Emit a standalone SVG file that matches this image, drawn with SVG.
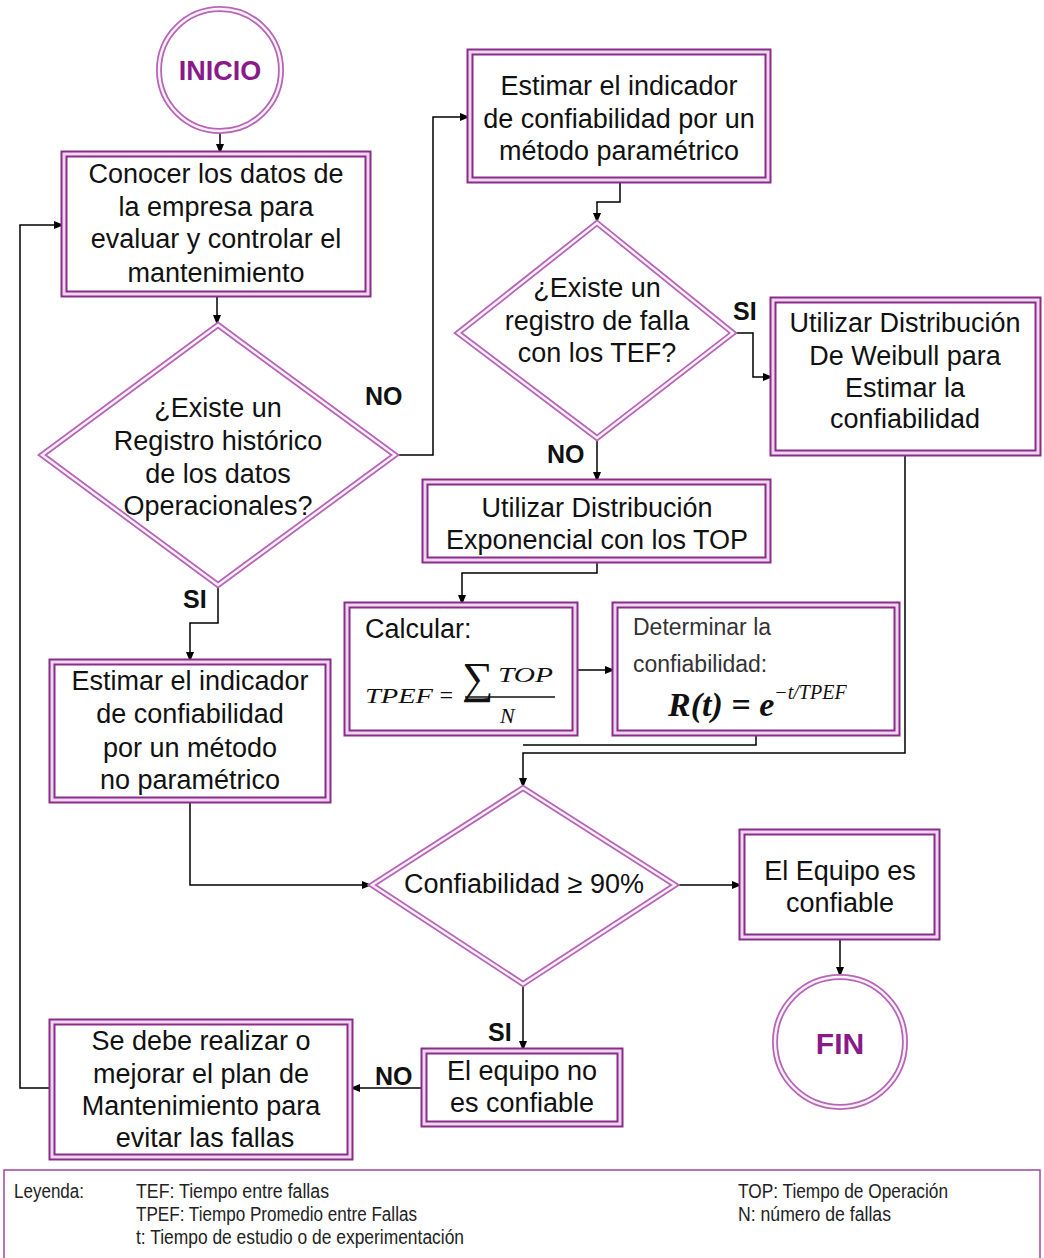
<svg xmlns="http://www.w3.org/2000/svg" width="1044" height="1258" viewBox="0 0 1044 1258">
<defs>
<marker id="ah" markerWidth="10" markerHeight="8" refX="9" refY="4" orient="auto" markerUnits="userSpaceOnUse"><path d="M0,0 L10,4 L0,8 z" fill="#000"/></marker>
</defs>
<style>
.bo{fill:#fff;stroke:#8a2c8a;stroke-width:7}
.bi{fill:none;stroke:#efd6ef;stroke-width:3}
.do{fill:#fff;stroke:#b766b7;stroke-width:6}
.di{fill:none;stroke:#fbf0fb;stroke-width:2.4}
.t{font-family:"Liberation Sans",Arial,sans-serif;font-size:27px;fill:#111;text-anchor:middle}
.tl{font-family:"Liberation Sans",Arial,sans-serif;font-size:27px;fill:#111;text-anchor:start}
.lb{font-family:"Liberation Sans",Arial,sans-serif;font-size:25px;font-weight:bold;fill:#111}
.c{fill:none;stroke:#000;stroke-width:1.5}
.ca{fill:none;stroke:#000;stroke-width:1.5;marker-end:url(#ah)}
.term{font-family:"Liberation Sans",Arial,sans-serif;font-weight:bold;fill:#8a1a8a;text-anchor:middle}
.lg{font-family:"Liberation Sans",Arial,sans-serif;font-size:20px;fill:#222}
.sm{font-family:"Liberation Sans",Arial,sans-serif;font-size:23px;fill:#333}
.m{font-family:"Liberation Serif","Times New Roman",serif;font-style:italic;fill:#111}
</style>
<rect width="1044" height="1258" fill="#fff"/>

<g id="connectors">
<path class="ca" d="M220,131 V153"/>
<path class="ca" d="M217,294 V324"/>
<path class="ca" d="M395,455 H433 V117 H469"/>
<path class="ca" d="M620,180 V202 H597 V222"/>
<path class="ca" d="M733,333 H753 V377 H772"/>
<path class="ca" d="M597,438 V481"/>
<path class="ca" d="M597,560 V573 H462 V604"/>
<path class="ca" d="M575,670 H614"/>
<path class="c" d="M756,733 V745 H523"/>
<path class="ca" d="M905,453 V753 H523 V787"/>
<path class="ca" d="M218,585 V623 H190 V661"/>
<path class="ca" d="M190,800 V885 H371"/>
<path class="ca" d="M675,885 H741"/>
<path class="ca" d="M523,984 V1050"/>
<path class="ca" d="M840,937 V976"/>
<path class="ca" d="M424,1088 H351"/>
<path class="ca" d="M52,1088 H20 V225 H63"/>
<text class="lb" x="365" y="405">NO</text>
<text class="lb" x="183" y="608">SI</text>
<text class="lb" x="733" y="320">SI</text>
<text class="lb" x="547" y="463">NO</text>
<text class="lb" x="488" y="1041">SI</text>
<text class="lb" x="375" y="1085">NO</text>
</g>

<g id="inicio">
<circle cx="220" cy="70" r="61" class="do"/><circle cx="220" cy="70" r="61" class="di"/>
<text class="term" x="220" y="80" font-size="27">INICIO</text>
</g>

<g id="conocer">
<rect x="64" y="154" width="304" height="140" class="bo"/><rect x="64" y="154" width="304" height="140" class="bi"/>
<text class="t" x="216" y="183">Conocer los datos de</text>
<text class="t" x="216" y="216">la empresa para</text>
<text class="t" x="216" y="248">evaluar y controlar el</text>
<text class="t" x="216" y="282">mantenimiento</text>
</g>

<g id="registro">
<polygon points="218,325 395,455 218,585 42,455" class="do"/><polygon points="218,325 395,455 218,585 42,455" class="di"/>
<text class="t" x="218" y="417">¿Existe un</text>
<text class="t" x="218" y="450">Registro histórico</text>
<text class="t" x="218" y="483">de los datos</text>
<text class="t" x="218" y="515">Operacionales?</text>
</g>

<g id="parametrico">
<rect x="470" y="52" width="298" height="128" class="bo"/><rect x="470" y="52" width="298" height="128" class="bi"/>
<text class="t" x="619" y="95">Estimar el indicador</text>
<text class="t" x="619" y="128">de confiabilidad por un</text>
<text class="t" x="619" y="160">método paramétrico</text>
</g>

<g id="falla">
<polygon points="597,223 733,333 597,438 458,333" class="do"/><polygon points="597,223 733,333 597,438 458,333" class="di"/>
<text class="t" x="597" y="297">¿Existe un</text>
<text class="t" x="597" y="330">registro de falla</text>
<text class="t" x="597" y="362">con los TEF?</text>
</g>

<g id="weibull">
<rect x="773" y="300" width="265" height="153" class="bo"/><rect x="773" y="300" width="265" height="153" class="bi"/>
<text class="t" x="905" y="332">Utilizar Distribución</text>
<text class="t" x="905" y="365">De Weibull para</text>
<text class="t" x="905" y="397">Estimar la</text>
<text class="t" x="905" y="428">confiabilidad</text>
</g>

<g id="exponencial">
<rect x="425" y="482" width="343" height="78" class="bo"/><rect x="425" y="482" width="343" height="78" class="bi"/>
<text class="t" x="597" y="517">Utilizar Distribución</text>
<text class="t" x="597" y="549">Exponencial con los TOP</text>
</g>

<g id="calcular">
<rect x="347" y="605" width="228" height="128" class="bo"/><rect x="347" y="605" width="228" height="128" class="bi"/>
<text class="tl" x="365" y="638">Calcular:</text>
<text class="m" x="365" y="703" font-size="22" textLength="68" lengthAdjust="spacingAndGlyphs">TPEF</text>
<text class="m" x="438" y="703" font-size="24" font-style="normal">=</text>
<text class="m" x="462" y="693" font-size="44" font-style="normal">∑</text>
<text class="m" x="498" y="682" font-size="21" textLength="55" lengthAdjust="spacingAndGlyphs">TOP</text>
<path d="M465,697 H555" stroke="#111" stroke-width="1.3"/>
<text class="m" x="500" y="723" font-size="22">N</text>
</g>

<g id="determinar">
<rect x="615" y="605" width="282" height="128" class="bo"/><rect x="615" y="605" width="282" height="128" class="bi"/>
<text class="sm" x="633" y="635">Determinar la</text>
<text class="sm" x="633" y="672">confiabilidad:</text>
<text class="m" x="668" y="716" font-size="34" font-weight="bold">R(t) = e<tspan font-size="20" dy="-17" font-weight="normal">−t/TPEF</tspan></text>
</g>

<g id="estimar-np">
<rect x="52" y="662" width="276" height="138" class="bo"/><rect x="52" y="662" width="276" height="138" class="bi"/>
<text class="t" x="190" y="690">Estimar el indicador</text>
<text class="t" x="190" y="723">de confiabilidad</text>
<text class="t" x="190" y="757">por un método</text>
<text class="t" x="190" y="789">no paramétrico</text>
</g>

<g id="confiabilidad">
<polygon points="523,788 675,885 523,984 372,885" class="do"/><polygon points="523,788 675,885 523,984 372,885" class="di"/>
<text class="t" x="524" y="893">Confiabilidad ≥ 90%</text>
</g>

<g id="confiable">
<rect x="742" y="832" width="195" height="105" class="bo"/><rect x="742" y="832" width="195" height="105" class="bi"/>
<text class="t" x="840" y="880">El Equipo es</text>
<text class="t" x="840" y="912">confiable</text>
</g>

<g id="fin">
<circle cx="840" cy="1042" r="65" class="do"/><circle cx="840" cy="1042" r="65" class="di"/>
<text class="term" x="840" y="1054" font-size="30">FIN</text>
</g>

<g id="no-confiable">
<rect x="424" y="1051" width="196" height="73" class="bo"/><rect x="424" y="1051" width="196" height="73" class="bi"/>
<text class="t" x="522" y="1080">El equipo no</text>
<text class="t" x="522" y="1112">es confiable</text>
</g>

<g id="mejorar">
<rect x="52" y="1022" width="298" height="135" class="bo"/><rect x="52" y="1022" width="298" height="135" class="bi"/>
<text class="t" x="201" y="1050">Se debe realizar o</text>
<text class="t" x="201" y="1083">mejorar el plan de</text>
<text class="t" x="201" y="1115">Mantenimiento para</text>
<text class="t" x="205" y="1147">evitar las fallas</text>
</g>

<g id="leyenda">
<rect x="4" y="1170" width="1036" height="100" fill="#fff" stroke="#9a4a9a" stroke-width="1.5"/>
<text class="lg" x="14" y="1198" textLength="70" lengthAdjust="spacingAndGlyphs">Leyenda:</text>
<text class="lg" x="136" y="1198" textLength="193" lengthAdjust="spacingAndGlyphs">TEF: Tiempo entre fallas</text>
<text class="lg" x="136" y="1221" textLength="281" lengthAdjust="spacingAndGlyphs">TPEF: Tiempo Promedio entre Fallas</text>
<text class="lg" x="136" y="1244" textLength="328" lengthAdjust="spacingAndGlyphs">t: Tiempo de estudio o de experimentación</text>
<text class="lg" x="738" y="1198" textLength="210" lengthAdjust="spacingAndGlyphs">TOP: Tiempo de Operación</text>
<text class="lg" x="738" y="1221" textLength="153" lengthAdjust="spacingAndGlyphs">N: número de fallas</text>
</g>
</svg>
